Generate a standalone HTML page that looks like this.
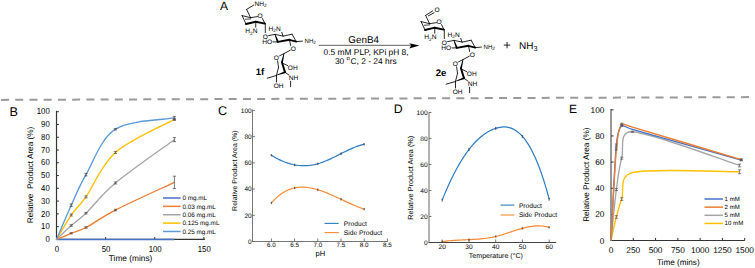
<!DOCTYPE html>
<html><head><meta charset="utf-8"><style>
html,body{margin:0;padding:0;background:#fff;width:755px;height:268px;overflow:hidden}
svg{display:block}
text{font-family:"Liberation Sans", sans-serif;text-rendering:geometricPrecision}
</style></head><body>
<svg width="755" height="268" viewBox="0 0 755 268">
<rect width="755" height="268" fill="#fff"/>
<line x1="1" y1="99.9" x2="755" y2="97.1" stroke="#9a9a9a" stroke-width="2" stroke-dasharray="8 6.23"/>
<text x="9.60" y="115.90" font-size="12.70" text-anchor="start" fill="#000" font-weight="normal" >B</text>
<line x1="56.50" y1="239.40" x2="58.90" y2="239.40" stroke="#333" stroke-width="1.00" />
<text x="49.70" y="242.10" font-size="8.60" text-anchor="end" fill="#000" font-weight="normal" textLength="4.3" lengthAdjust="spacingAndGlyphs">0</text>
<line x1="56.50" y1="226.63" x2="58.90" y2="226.63" stroke="#333" stroke-width="1.00" />
<text x="49.70" y="229.33" font-size="8.60" text-anchor="end" fill="#000" font-weight="normal" textLength="8.6" lengthAdjust="spacingAndGlyphs">10</text>
<line x1="56.50" y1="213.86" x2="58.90" y2="213.86" stroke="#333" stroke-width="1.00" />
<text x="49.70" y="216.56" font-size="8.60" text-anchor="end" fill="#000" font-weight="normal" textLength="8.6" lengthAdjust="spacingAndGlyphs">20</text>
<line x1="56.50" y1="201.09" x2="58.90" y2="201.09" stroke="#333" stroke-width="1.00" />
<text x="49.70" y="203.79" font-size="8.60" text-anchor="end" fill="#000" font-weight="normal" textLength="8.6" lengthAdjust="spacingAndGlyphs">30</text>
<line x1="56.50" y1="188.32" x2="58.90" y2="188.32" stroke="#333" stroke-width="1.00" />
<text x="49.70" y="191.02" font-size="8.60" text-anchor="end" fill="#000" font-weight="normal" textLength="8.6" lengthAdjust="spacingAndGlyphs">40</text>
<line x1="56.50" y1="175.55" x2="58.90" y2="175.55" stroke="#333" stroke-width="1.00" />
<text x="49.70" y="178.25" font-size="8.60" text-anchor="end" fill="#000" font-weight="normal" textLength="8.6" lengthAdjust="spacingAndGlyphs">50</text>
<line x1="56.50" y1="162.78" x2="58.90" y2="162.78" stroke="#333" stroke-width="1.00" />
<text x="49.70" y="165.48" font-size="8.60" text-anchor="end" fill="#000" font-weight="normal" textLength="8.6" lengthAdjust="spacingAndGlyphs">60</text>
<line x1="56.50" y1="150.01" x2="58.90" y2="150.01" stroke="#333" stroke-width="1.00" />
<text x="49.70" y="152.71" font-size="8.60" text-anchor="end" fill="#000" font-weight="normal" textLength="8.6" lengthAdjust="spacingAndGlyphs">70</text>
<line x1="56.50" y1="137.24" x2="58.90" y2="137.24" stroke="#333" stroke-width="1.00" />
<text x="49.70" y="139.94" font-size="8.60" text-anchor="end" fill="#000" font-weight="normal" textLength="8.6" lengthAdjust="spacingAndGlyphs">80</text>
<line x1="56.50" y1="124.47" x2="58.90" y2="124.47" stroke="#333" stroke-width="1.00" />
<text x="49.70" y="127.17" font-size="8.60" text-anchor="end" fill="#000" font-weight="normal" textLength="8.6" lengthAdjust="spacingAndGlyphs">90</text>
<line x1="56.50" y1="111.70" x2="58.90" y2="111.70" stroke="#333" stroke-width="1.00" />
<text x="49.70" y="114.40" font-size="8.60" text-anchor="end" fill="#000" font-weight="normal" textLength="12.9" lengthAdjust="spacingAndGlyphs">100</text>
<line x1="56.50" y1="239.40" x2="56.50" y2="237.00" stroke="#333" stroke-width="1.00" />
<text x="56.90" y="252.30" font-size="8.60" text-anchor="middle" fill="#000" font-weight="normal" textLength="4.3" lengthAdjust="spacingAndGlyphs">0</text>
<line x1="105.62" y1="239.40" x2="105.62" y2="237.00" stroke="#333" stroke-width="1.00" />
<text x="106.03" y="252.30" font-size="8.60" text-anchor="middle" fill="#000" font-weight="normal" textLength="8.7" lengthAdjust="spacingAndGlyphs">50</text>
<line x1="154.75" y1="239.40" x2="154.75" y2="237.00" stroke="#333" stroke-width="1.00" />
<text x="155.15" y="252.30" font-size="8.60" text-anchor="middle" fill="#000" font-weight="normal" textLength="13.0" lengthAdjust="spacingAndGlyphs">100</text>
<line x1="203.88" y1="239.40" x2="203.88" y2="237.00" stroke="#333" stroke-width="1.00" />
<text x="204.28" y="252.30" font-size="8.60" text-anchor="middle" fill="#000" font-weight="normal" textLength="13.0" lengthAdjust="spacingAndGlyphs">150</text>
<line x1="56.50" y1="110.80" x2="56.50" y2="239.90" stroke="#333" stroke-width="1.20" />
<line x1="55.90" y1="239.40" x2="204.90" y2="239.40" stroke="#333" stroke-width="1.20" />
<text x="130.60" y="261.20" font-size="8.30" text-anchor="middle" fill="#000" font-weight="normal" >Time (mins)</text>
<text x="32.70" y="175.00" font-size="8.20" text-anchor="middle" fill="#000" font-weight="normal" transform="rotate(-90 32.7 175.0)">Relative&#160;&#160;Product Area (%)</text>
<line x1="56.50" y1="239.40" x2="174.40" y2="239.40" stroke="#4472C4" stroke-width="1.50" />
<path d="M56.50,239.40 C58.96,238.38 66.33,235.25 71.24,233.27 C76.15,231.29 78.97,231.20 85.97,227.52 C93.34,223.65 100.71,217.56 115.45,210.03 C130.19,202.49 164.58,186.94 174.40,182.32" stroke="#ED7D31" stroke-width="1.35" fill="none" />
<path d="M56.50,239.40 C58.96,237.08 66.33,229.84 71.24,225.48 C76.15,221.12 79.07,219.87 85.97,213.22 C93.34,206.13 100.71,195.22 115.45,182.96 C130.19,170.70 164.58,146.88 174.40,139.67" stroke="#A5A5A5" stroke-width="1.35" fill="none" />
<path d="M56.50,239.40 C58.96,235.33 66.33,222.10 71.24,215.01 C76.15,207.92 79.23,206.42 85.97,196.88 C93.34,186.45 100.71,165.36 115.45,152.44 C130.19,139.52 164.58,124.87 174.40,119.36" stroke="#FFC000" stroke-width="1.35" fill="none" />
<path d="M56.50,239.40 C58.96,233.72 66.33,216.09 71.24,205.30 C76.15,194.51 78.61,187.34 85.97,174.66 C93.34,161.97 100.71,138.64 115.45,129.19 C130.19,119.75 164.58,119.83 174.40,117.96" stroke="#5B9BD5" stroke-width="1.35" fill="none" />
<line x1="71.24" y1="232.63" x2="71.24" y2="233.91" stroke="#444" stroke-width="0.70" />
<line x1="69.64" y1="232.63" x2="72.84" y2="232.63" stroke="#444" stroke-width="0.70" />
<line x1="69.64" y1="233.91" x2="72.84" y2="233.91" stroke="#444" stroke-width="0.70" />
<line x1="85.97" y1="226.76" x2="85.97" y2="228.29" stroke="#444" stroke-width="0.70" />
<line x1="84.38" y1="226.76" x2="87.57" y2="226.76" stroke="#444" stroke-width="0.70" />
<line x1="84.38" y1="228.29" x2="87.57" y2="228.29" stroke="#444" stroke-width="0.70" />
<line x1="115.45" y1="209.26" x2="115.45" y2="210.80" stroke="#444" stroke-width="0.70" />
<line x1="113.85" y1="209.26" x2="117.05" y2="209.26" stroke="#444" stroke-width="0.70" />
<line x1="113.85" y1="210.80" x2="117.05" y2="210.80" stroke="#444" stroke-width="0.70" />
<line x1="174.40" y1="176.19" x2="174.40" y2="188.45" stroke="#444" stroke-width="0.70" />
<line x1="172.80" y1="176.19" x2="176.00" y2="176.19" stroke="#444" stroke-width="0.70" />
<line x1="172.80" y1="188.45" x2="176.00" y2="188.45" stroke="#444" stroke-width="0.70" />
<line x1="71.24" y1="224.71" x2="71.24" y2="226.25" stroke="#444" stroke-width="0.70" />
<line x1="69.64" y1="224.71" x2="72.84" y2="224.71" stroke="#444" stroke-width="0.70" />
<line x1="69.64" y1="226.25" x2="72.84" y2="226.25" stroke="#444" stroke-width="0.70" />
<line x1="85.97" y1="212.46" x2="85.97" y2="213.99" stroke="#444" stroke-width="0.70" />
<line x1="84.38" y1="212.46" x2="87.57" y2="212.46" stroke="#444" stroke-width="0.70" />
<line x1="84.38" y1="213.99" x2="87.57" y2="213.99" stroke="#444" stroke-width="0.70" />
<line x1="115.45" y1="181.94" x2="115.45" y2="183.98" stroke="#444" stroke-width="0.70" />
<line x1="113.85" y1="181.94" x2="117.05" y2="181.94" stroke="#444" stroke-width="0.70" />
<line x1="113.85" y1="183.98" x2="117.05" y2="183.98" stroke="#444" stroke-width="0.70" />
<line x1="174.40" y1="137.62" x2="174.40" y2="141.71" stroke="#444" stroke-width="0.70" />
<line x1="172.80" y1="137.62" x2="176.00" y2="137.62" stroke="#444" stroke-width="0.70" />
<line x1="172.80" y1="141.71" x2="176.00" y2="141.71" stroke="#444" stroke-width="0.70" />
<line x1="71.24" y1="213.99" x2="71.24" y2="216.03" stroke="#444" stroke-width="0.70" />
<line x1="69.64" y1="213.99" x2="72.84" y2="213.99" stroke="#444" stroke-width="0.70" />
<line x1="69.64" y1="216.03" x2="72.84" y2="216.03" stroke="#444" stroke-width="0.70" />
<line x1="85.97" y1="195.85" x2="85.97" y2="197.90" stroke="#444" stroke-width="0.70" />
<line x1="84.38" y1="195.85" x2="87.57" y2="195.85" stroke="#444" stroke-width="0.70" />
<line x1="84.38" y1="197.90" x2="87.57" y2="197.90" stroke="#444" stroke-width="0.70" />
<line x1="115.45" y1="151.41" x2="115.45" y2="153.46" stroke="#444" stroke-width="0.70" />
<line x1="113.85" y1="151.41" x2="117.05" y2="151.41" stroke="#444" stroke-width="0.70" />
<line x1="113.85" y1="153.46" x2="117.05" y2="153.46" stroke="#444" stroke-width="0.70" />
<line x1="174.40" y1="118.34" x2="174.40" y2="120.38" stroke="#444" stroke-width="0.70" />
<line x1="172.80" y1="118.34" x2="176.00" y2="118.34" stroke="#444" stroke-width="0.70" />
<line x1="172.80" y1="120.38" x2="176.00" y2="120.38" stroke="#444" stroke-width="0.70" />
<line x1="71.24" y1="204.03" x2="71.24" y2="206.58" stroke="#444" stroke-width="0.70" />
<line x1="69.64" y1="204.03" x2="72.84" y2="204.03" stroke="#444" stroke-width="0.70" />
<line x1="69.64" y1="206.58" x2="72.84" y2="206.58" stroke="#444" stroke-width="0.70" />
<line x1="85.97" y1="173.38" x2="85.97" y2="175.93" stroke="#444" stroke-width="0.70" />
<line x1="84.38" y1="173.38" x2="87.57" y2="173.38" stroke="#444" stroke-width="0.70" />
<line x1="84.38" y1="175.93" x2="87.57" y2="175.93" stroke="#444" stroke-width="0.70" />
<line x1="115.45" y1="128.43" x2="115.45" y2="129.96" stroke="#444" stroke-width="0.70" />
<line x1="113.85" y1="128.43" x2="117.05" y2="128.43" stroke="#444" stroke-width="0.70" />
<line x1="113.85" y1="129.96" x2="117.05" y2="129.96" stroke="#444" stroke-width="0.70" />
<line x1="174.40" y1="116.42" x2="174.40" y2="119.49" stroke="#444" stroke-width="0.70" />
<line x1="172.80" y1="116.42" x2="176.00" y2="116.42" stroke="#444" stroke-width="0.70" />
<line x1="172.80" y1="119.49" x2="176.00" y2="119.49" stroke="#444" stroke-width="0.70" />
<line x1="163.00" y1="198.00" x2="180.60" y2="198.00" stroke="#4472C4" stroke-width="1.50" />
<text x="182.40" y="200.20" font-size="6.35" text-anchor="start" fill="#000" font-weight="normal" >0 mg.mL</text>
<line x1="163.00" y1="206.37" x2="180.60" y2="206.37" stroke="#ED7D31" stroke-width="1.50" />
<text x="182.40" y="208.57" font-size="6.35" text-anchor="start" fill="#000" font-weight="normal" >0.03 mg.mL</text>
<line x1="163.00" y1="214.74" x2="180.60" y2="214.74" stroke="#A5A5A5" stroke-width="1.50" />
<text x="182.40" y="216.94" font-size="6.35" text-anchor="start" fill="#000" font-weight="normal" >0.06 mg.mL</text>
<line x1="163.00" y1="223.11" x2="180.60" y2="223.11" stroke="#FFC000" stroke-width="1.50" />
<text x="182.40" y="225.31" font-size="6.35" text-anchor="start" fill="#000" font-weight="normal" >0.125 mg.mL</text>
<line x1="163.00" y1="231.48" x2="180.60" y2="231.48" stroke="#5B9BD5" stroke-width="1.50" />
<text x="182.40" y="233.68" font-size="6.35" text-anchor="start" fill="#000" font-weight="normal" >0.25 mg.mL</text>
<text x="218.00" y="115.40" font-size="12.70" text-anchor="start" fill="#000" font-weight="normal" >C</text>
<line x1="252.50" y1="241.50" x2="254.90" y2="241.50" stroke="#666" stroke-width="0.90" />
<text x="251.70" y="243.80" font-size="6.50" text-anchor="end" fill="#000" font-weight="normal" >0</text>
<line x1="252.50" y1="215.28" x2="254.90" y2="215.28" stroke="#666" stroke-width="0.90" />
<text x="251.70" y="217.58" font-size="6.50" text-anchor="end" fill="#000" font-weight="normal" >20</text>
<line x1="252.50" y1="189.06" x2="254.90" y2="189.06" stroke="#666" stroke-width="0.90" />
<text x="251.70" y="191.36" font-size="6.50" text-anchor="end" fill="#000" font-weight="normal" >40</text>
<line x1="252.50" y1="162.84" x2="254.90" y2="162.84" stroke="#666" stroke-width="0.90" />
<text x="251.70" y="165.14" font-size="6.50" text-anchor="end" fill="#000" font-weight="normal" >60</text>
<line x1="252.50" y1="136.62" x2="254.90" y2="136.62" stroke="#666" stroke-width="0.90" />
<text x="251.70" y="138.92" font-size="6.50" text-anchor="end" fill="#000" font-weight="normal" >80</text>
<line x1="252.50" y1="110.40" x2="254.90" y2="110.40" stroke="#666" stroke-width="0.90" />
<text x="251.70" y="112.70" font-size="6.50" text-anchor="end" fill="#000" font-weight="normal" >100</text>
<line x1="271.40" y1="241.50" x2="271.40" y2="238.50" stroke="#666" stroke-width="0.90" />
<text x="271.40" y="247.30" font-size="6.30" text-anchor="middle" fill="#000" font-weight="normal" >6.0</text>
<line x1="294.60" y1="241.50" x2="294.60" y2="238.50" stroke="#666" stroke-width="0.90" />
<text x="294.60" y="247.30" font-size="6.30" text-anchor="middle" fill="#000" font-weight="normal" >6.5</text>
<line x1="317.80" y1="241.50" x2="317.80" y2="238.50" stroke="#666" stroke-width="0.90" />
<text x="317.80" y="247.30" font-size="6.30" text-anchor="middle" fill="#000" font-weight="normal" >7.0</text>
<line x1="341.00" y1="241.50" x2="341.00" y2="238.50" stroke="#666" stroke-width="0.90" />
<text x="341.00" y="247.30" font-size="6.30" text-anchor="middle" fill="#000" font-weight="normal" >7.5</text>
<line x1="364.20" y1="241.50" x2="364.20" y2="238.50" stroke="#666" stroke-width="0.90" />
<text x="364.20" y="247.30" font-size="6.30" text-anchor="middle" fill="#000" font-weight="normal" >8.0</text>
<line x1="387.40" y1="241.50" x2="387.40" y2="238.50" stroke="#666" stroke-width="0.90" />
<text x="387.40" y="247.30" font-size="6.30" text-anchor="middle" fill="#000" font-weight="normal" >8.5</text>
<line x1="252.50" y1="109.60" x2="252.50" y2="241.90" stroke="#666" stroke-width="0.90" />
<line x1="252.10" y1="241.50" x2="387.80" y2="241.50" stroke="#666" stroke-width="0.90" />
<text x="320.40" y="255.60" font-size="7.50" text-anchor="middle" fill="#000" font-weight="normal" >pH</text>
<text x="237.20" y="170.60" font-size="7.00" text-anchor="middle" fill="#000" font-weight="normal" transform="rotate(-90 237.2 170.6)">Relative Product Area (%)</text>
<path d="M271.40,155.24 L273.06,156.26 L274.71,157.24 L276.37,158.16 L278.03,159.03 L279.69,159.84 L281.34,160.61 L283.00,161.32 L284.66,161.98 L286.31,162.58 L287.97,163.14 L289.63,163.63 L291.29,164.08 L292.94,164.47 L294.60,164.81 L296.26,165.09 L297.91,165.32 L299.57,165.49 L301.23,165.61 L302.89,165.67 L304.54,165.68 L306.20,165.64 L307.86,165.54 L309.51,165.38 L311.17,165.17 L312.83,164.90 L314.49,164.58 L316.14,164.19 L317.80,163.76 L319.46,163.27 L321.11,162.72 L322.77,162.13 L324.43,161.49 L326.09,160.81 L327.74,160.10 L329.40,159.36 L331.06,158.59 L332.71,157.80 L334.37,156.99 L336.03,156.17 L337.69,155.34 L339.34,154.50 L341.00,153.66 L342.66,152.83 L344.31,152.00 L345.97,151.19 L347.63,150.39 L349.29,149.61 L350.94,148.85 L352.60,148.13 L354.26,147.44 L355.91,146.78 L357.57,146.17 L359.23,145.60 L360.89,145.09 L362.54,144.63 L364.20,144.22" stroke="#2D7BC2" stroke-width="1.20" fill="none" />
<path d="M271.40,202.96 L273.06,201.11 L274.71,199.40 L276.37,197.82 L278.03,196.36 L279.69,195.03 L281.34,193.81 L283.00,192.70 L284.66,191.71 L286.31,190.82 L287.97,190.04 L289.63,189.36 L291.29,188.77 L292.94,188.28 L294.60,187.88 L296.26,187.56 L297.91,187.33 L299.57,187.18 L301.23,187.10 L302.89,187.09 L304.54,187.16 L306.20,187.28 L307.86,187.47 L309.51,187.72 L311.17,188.03 L312.83,188.38 L314.49,188.78 L316.14,189.23 L317.80,189.72 L319.46,190.24 L321.11,190.80 L322.77,191.39 L324.43,192.01 L326.09,192.66 L327.74,193.33 L329.40,194.03 L331.06,194.74 L332.71,195.47 L334.37,196.22 L336.03,196.97 L337.69,197.74 L339.34,198.51 L341.00,199.29 L342.66,200.06 L344.31,200.84 L345.97,201.61 L347.63,202.38 L349.29,203.13 L350.94,203.88 L352.60,204.61 L354.26,205.32 L355.91,206.02 L357.57,206.69 L359.23,207.34 L360.89,207.96 L362.54,208.56 L364.20,209.12" stroke="#FA8A32" stroke-width="1.20" fill="none" />
<line x1="271.40" y1="154.54" x2="271.40" y2="155.94" stroke="#333" stroke-width="0.60" />
<line x1="270.70" y1="154.54" x2="272.10" y2="154.54" stroke="#333" stroke-width="0.60" />
<line x1="270.70" y1="155.94" x2="272.10" y2="155.94" stroke="#333" stroke-width="0.60" />
<line x1="294.60" y1="164.11" x2="294.60" y2="165.51" stroke="#333" stroke-width="0.60" />
<line x1="293.90" y1="164.11" x2="295.30" y2="164.11" stroke="#333" stroke-width="0.60" />
<line x1="293.90" y1="165.51" x2="295.30" y2="165.51" stroke="#333" stroke-width="0.60" />
<line x1="317.80" y1="163.06" x2="317.80" y2="164.46" stroke="#333" stroke-width="0.60" />
<line x1="317.10" y1="163.06" x2="318.50" y2="163.06" stroke="#333" stroke-width="0.60" />
<line x1="317.10" y1="164.46" x2="318.50" y2="164.46" stroke="#333" stroke-width="0.60" />
<line x1="341.00" y1="152.96" x2="341.00" y2="154.36" stroke="#333" stroke-width="0.60" />
<line x1="340.30" y1="152.96" x2="341.70" y2="152.96" stroke="#333" stroke-width="0.60" />
<line x1="340.30" y1="154.36" x2="341.70" y2="154.36" stroke="#333" stroke-width="0.60" />
<line x1="364.20" y1="143.52" x2="364.20" y2="144.92" stroke="#333" stroke-width="0.60" />
<line x1="363.50" y1="143.52" x2="364.90" y2="143.52" stroke="#333" stroke-width="0.60" />
<line x1="363.50" y1="144.92" x2="364.90" y2="144.92" stroke="#333" stroke-width="0.60" />
<line x1="271.40" y1="202.26" x2="271.40" y2="203.66" stroke="#333" stroke-width="0.60" />
<line x1="270.70" y1="202.26" x2="272.10" y2="202.26" stroke="#333" stroke-width="0.60" />
<line x1="270.70" y1="203.66" x2="272.10" y2="203.66" stroke="#333" stroke-width="0.60" />
<line x1="294.60" y1="187.18" x2="294.60" y2="188.58" stroke="#333" stroke-width="0.60" />
<line x1="293.90" y1="187.18" x2="295.30" y2="187.18" stroke="#333" stroke-width="0.60" />
<line x1="293.90" y1="188.58" x2="295.30" y2="188.58" stroke="#333" stroke-width="0.60" />
<line x1="317.80" y1="189.02" x2="317.80" y2="190.42" stroke="#333" stroke-width="0.60" />
<line x1="317.10" y1="189.02" x2="318.50" y2="189.02" stroke="#333" stroke-width="0.60" />
<line x1="317.10" y1="190.42" x2="318.50" y2="190.42" stroke="#333" stroke-width="0.60" />
<line x1="341.00" y1="198.59" x2="341.00" y2="199.99" stroke="#333" stroke-width="0.60" />
<line x1="340.30" y1="198.59" x2="341.70" y2="198.59" stroke="#333" stroke-width="0.60" />
<line x1="340.30" y1="199.99" x2="341.70" y2="199.99" stroke="#333" stroke-width="0.60" />
<line x1="364.20" y1="208.42" x2="364.20" y2="209.82" stroke="#333" stroke-width="0.60" />
<line x1="363.50" y1="208.42" x2="364.90" y2="208.42" stroke="#333" stroke-width="0.60" />
<line x1="363.50" y1="209.82" x2="364.90" y2="209.82" stroke="#333" stroke-width="0.60" />
<line x1="324.50" y1="223.40" x2="338.70" y2="223.40" stroke="#2D7BC2" stroke-width="1.10" />
<line x1="324.50" y1="232.60" x2="338.70" y2="232.60" stroke="#FA8A32" stroke-width="1.10" />
<text x="343.80" y="225.90" font-size="6.70" text-anchor="start" fill="#000" font-weight="normal" >Product</text>
<text x="343.80" y="235.10" font-size="6.70" text-anchor="start" fill="#000" font-weight="normal" >Side Product</text>
<text x="393.80" y="112.80" font-size="12.30" text-anchor="start" fill="#000" font-weight="normal" >D</text>
<line x1="429.00" y1="242.50" x2="431.40" y2="242.50" stroke="#666" stroke-width="0.90" />
<text x="427.60" y="244.80" font-size="6.60" text-anchor="end" fill="#000" font-weight="normal" >0</text>
<line x1="429.00" y1="216.50" x2="431.40" y2="216.50" stroke="#666" stroke-width="0.90" />
<text x="427.60" y="218.80" font-size="6.60" text-anchor="end" fill="#000" font-weight="normal" >20</text>
<line x1="429.00" y1="190.50" x2="431.40" y2="190.50" stroke="#666" stroke-width="0.90" />
<text x="427.60" y="192.80" font-size="6.60" text-anchor="end" fill="#000" font-weight="normal" >40</text>
<line x1="429.00" y1="164.50" x2="431.40" y2="164.50" stroke="#666" stroke-width="0.90" />
<text x="427.60" y="166.80" font-size="6.60" text-anchor="end" fill="#000" font-weight="normal" >60</text>
<line x1="429.00" y1="138.50" x2="431.40" y2="138.50" stroke="#666" stroke-width="0.90" />
<text x="427.60" y="140.80" font-size="6.60" text-anchor="end" fill="#000" font-weight="normal" >80</text>
<line x1="429.00" y1="112.50" x2="431.40" y2="112.50" stroke="#666" stroke-width="0.90" />
<text x="427.60" y="114.80" font-size="6.60" text-anchor="end" fill="#000" font-weight="normal" >100</text>
<line x1="442.20" y1="242.50" x2="442.20" y2="239.50" stroke="#666" stroke-width="0.90" />
<text x="442.20" y="248.80" font-size="6.60" text-anchor="middle" fill="#000" font-weight="normal" >20</text>
<line x1="468.95" y1="242.50" x2="468.95" y2="239.50" stroke="#666" stroke-width="0.90" />
<text x="468.95" y="248.80" font-size="6.60" text-anchor="middle" fill="#000" font-weight="normal" >30</text>
<line x1="495.70" y1="242.50" x2="495.70" y2="239.50" stroke="#666" stroke-width="0.90" />
<text x="495.70" y="248.80" font-size="6.60" text-anchor="middle" fill="#000" font-weight="normal" >40</text>
<line x1="522.45" y1="242.50" x2="522.45" y2="239.50" stroke="#666" stroke-width="0.90" />
<text x="522.45" y="248.80" font-size="6.60" text-anchor="middle" fill="#000" font-weight="normal" >50</text>
<line x1="549.20" y1="242.50" x2="549.20" y2="239.50" stroke="#666" stroke-width="0.90" />
<text x="549.20" y="248.80" font-size="6.60" text-anchor="middle" fill="#000" font-weight="normal" >60</text>
<line x1="429.00" y1="112.00" x2="429.00" y2="242.90" stroke="#666" stroke-width="1.00" />
<line x1="428.60" y1="242.50" x2="556.20" y2="242.50" stroke="#444" stroke-width="1.00" />
<text x="495.90" y="258.30" font-size="7.05" text-anchor="middle" fill="#000" font-weight="normal" >Temperature (&#176;C)</text>
<text x="412.70" y="177.70" font-size="7.30" text-anchor="middle" fill="#000" font-weight="normal" transform="rotate(-90 412.7 177.7)">Relative Product Area (%)</text>
<path d="M442.20,200.12 L444.11,195.39 L446.02,190.85 L447.93,186.48 L449.84,182.29 L451.75,178.28 L453.66,174.43 L455.57,170.75 L457.49,167.24 L459.40,163.90 L461.31,160.71 L463.22,157.69 L465.13,154.82 L467.04,152.11 L468.95,149.55 L470.86,147.14 L472.77,144.88 L474.68,142.76 L476.59,140.78 L478.50,138.95 L480.41,137.25 L482.32,135.69 L484.24,134.26 L486.15,132.97 L488.06,131.80 L489.97,130.75 L491.88,129.84 L493.79,129.04 L495.70,128.36 L497.61,127.80 L499.52,127.37 L501.43,127.08 L503.34,126.94 L505.25,126.96 L507.16,127.16 L509.08,127.54 L510.99,128.12 L512.90,128.91 L514.81,129.93 L516.72,131.17 L518.63,132.66 L520.54,134.41 L522.45,136.42 L524.36,138.71 L526.27,141.30 L528.18,144.18 L530.09,147.38 L532.00,150.91 L533.91,154.77 L535.83,158.98 L537.74,163.55 L539.65,168.50 L541.56,173.83 L543.47,179.55 L545.38,185.68 L547.29,192.23 L549.20,199.21" stroke="#2D7BC2" stroke-width="1.20" fill="none" />
<path d="M442.20,241.72 L444.11,241.43 L446.02,241.18 L447.93,240.95 L449.84,240.76 L451.75,240.59 L453.66,240.43 L455.57,240.30 L457.49,240.19 L459.40,240.08 L461.31,239.99 L463.22,239.90 L465.13,239.81 L467.04,239.73 L468.95,239.64 L470.86,239.55 L472.77,239.45 L474.68,239.34 L476.59,239.21 L478.50,239.07 L480.41,238.90 L482.32,238.72 L484.24,238.51 L486.15,238.26 L488.06,237.99 L489.97,237.68 L491.88,237.34 L493.79,236.95 L495.70,236.52 L497.61,236.04 L499.52,235.53 L501.43,234.98 L503.34,234.40 L505.25,233.79 L507.16,233.17 L509.08,232.54 L510.99,231.91 L512.90,231.27 L514.81,230.65 L516.72,230.03 L518.63,229.44 L520.54,228.87 L522.45,228.33 L524.36,227.83 L526.27,227.37 L528.18,226.96 L530.09,226.61 L532.00,226.32 L533.91,226.09 L535.83,225.94 L537.74,225.86 L539.65,225.88 L541.56,225.98 L543.47,226.18 L545.38,226.48 L547.29,226.89 L549.20,227.42" stroke="#FA8A32" stroke-width="1.20" fill="none" />
<line x1="442.20" y1="199.22" x2="442.20" y2="201.02" stroke="#333" stroke-width="0.60" />
<line x1="441.50" y1="199.22" x2="442.90" y2="199.22" stroke="#333" stroke-width="0.60" />
<line x1="441.50" y1="201.02" x2="442.90" y2="201.02" stroke="#333" stroke-width="0.60" />
<line x1="468.95" y1="148.65" x2="468.95" y2="150.45" stroke="#333" stroke-width="0.60" />
<line x1="468.25" y1="148.65" x2="469.65" y2="148.65" stroke="#333" stroke-width="0.60" />
<line x1="468.25" y1="150.45" x2="469.65" y2="150.45" stroke="#333" stroke-width="0.60" />
<line x1="495.70" y1="127.46" x2="495.70" y2="129.26" stroke="#333" stroke-width="0.60" />
<line x1="495.00" y1="127.46" x2="496.40" y2="127.46" stroke="#333" stroke-width="0.60" />
<line x1="495.00" y1="129.26" x2="496.40" y2="129.26" stroke="#333" stroke-width="0.60" />
<line x1="522.45" y1="135.52" x2="522.45" y2="137.32" stroke="#333" stroke-width="0.60" />
<line x1="521.75" y1="135.52" x2="523.15" y2="135.52" stroke="#333" stroke-width="0.60" />
<line x1="521.75" y1="137.32" x2="523.15" y2="137.32" stroke="#333" stroke-width="0.60" />
<line x1="549.20" y1="198.31" x2="549.20" y2="200.11" stroke="#333" stroke-width="0.60" />
<line x1="548.50" y1="198.31" x2="549.90" y2="198.31" stroke="#333" stroke-width="0.60" />
<line x1="548.50" y1="200.11" x2="549.90" y2="200.11" stroke="#333" stroke-width="0.60" />
<line x1="442.20" y1="241.12" x2="442.20" y2="242.32" stroke="#333" stroke-width="0.60" />
<line x1="441.50" y1="241.12" x2="442.90" y2="241.12" stroke="#333" stroke-width="0.60" />
<line x1="441.50" y1="242.32" x2="442.90" y2="242.32" stroke="#333" stroke-width="0.60" />
<line x1="468.95" y1="239.04" x2="468.95" y2="240.24" stroke="#333" stroke-width="0.60" />
<line x1="468.25" y1="239.04" x2="469.65" y2="239.04" stroke="#333" stroke-width="0.60" />
<line x1="468.25" y1="240.24" x2="469.65" y2="240.24" stroke="#333" stroke-width="0.60" />
<line x1="495.70" y1="235.92" x2="495.70" y2="237.12" stroke="#333" stroke-width="0.60" />
<line x1="495.00" y1="235.92" x2="496.40" y2="235.92" stroke="#333" stroke-width="0.60" />
<line x1="495.00" y1="237.12" x2="496.40" y2="237.12" stroke="#333" stroke-width="0.60" />
<line x1="522.45" y1="227.73" x2="522.45" y2="228.93" stroke="#333" stroke-width="0.60" />
<line x1="521.75" y1="227.73" x2="523.15" y2="227.73" stroke="#333" stroke-width="0.60" />
<line x1="521.75" y1="228.93" x2="523.15" y2="228.93" stroke="#333" stroke-width="0.60" />
<line x1="549.20" y1="226.82" x2="549.20" y2="228.02" stroke="#333" stroke-width="0.60" />
<line x1="548.50" y1="226.82" x2="549.90" y2="226.82" stroke="#333" stroke-width="0.60" />
<line x1="548.50" y1="228.02" x2="549.90" y2="228.02" stroke="#333" stroke-width="0.60" />
<line x1="500.50" y1="205.10" x2="514.40" y2="205.10" stroke="#2D7BC2" stroke-width="1.10" />
<line x1="500.50" y1="215.00" x2="514.40" y2="215.00" stroke="#FA8A32" stroke-width="1.10" />
<text x="518.90" y="207.80" font-size="6.70" text-anchor="start" fill="#000" font-weight="normal" >Product</text>
<text x="518.90" y="217.10" font-size="6.70" text-anchor="start" fill="#000" font-weight="normal" >Side Product</text>
<text x="569.10" y="112.80" font-size="12.00" text-anchor="start" fill="#000" font-weight="normal" >E</text>
<line x1="611.00" y1="240.50" x2="613.60" y2="240.50" stroke="#333" stroke-width="1.00" />
<text x="604.40" y="243.50" font-size="8.30" text-anchor="end" fill="#000" font-weight="normal" >0</text>
<line x1="611.00" y1="214.36" x2="613.60" y2="214.36" stroke="#333" stroke-width="1.00" />
<text x="604.40" y="217.36" font-size="8.30" text-anchor="end" fill="#000" font-weight="normal" >20</text>
<line x1="611.00" y1="188.22" x2="613.60" y2="188.22" stroke="#333" stroke-width="1.00" />
<text x="604.40" y="191.22" font-size="8.30" text-anchor="end" fill="#000" font-weight="normal" >40</text>
<line x1="611.00" y1="162.08" x2="613.60" y2="162.08" stroke="#333" stroke-width="1.00" />
<text x="604.40" y="165.08" font-size="8.30" text-anchor="end" fill="#000" font-weight="normal" >60</text>
<line x1="611.00" y1="135.94" x2="613.60" y2="135.94" stroke="#333" stroke-width="1.00" />
<text x="604.40" y="138.94" font-size="8.30" text-anchor="end" fill="#000" font-weight="normal" >80</text>
<line x1="611.00" y1="109.80" x2="613.60" y2="109.80" stroke="#333" stroke-width="1.00" />
<text x="604.40" y="112.80" font-size="8.30" text-anchor="end" fill="#000" font-weight="normal" >100</text>
<line x1="611.00" y1="240.50" x2="611.00" y2="237.90" stroke="#333" stroke-width="1.00" />
<text x="611.00" y="253.10" font-size="8.30" text-anchor="middle" fill="#000" font-weight="normal" >0</text>
<line x1="633.28" y1="240.50" x2="633.28" y2="237.90" stroke="#333" stroke-width="1.00" />
<text x="633.28" y="253.10" font-size="8.30" text-anchor="middle" fill="#000" font-weight="normal" >250</text>
<line x1="655.56" y1="240.50" x2="655.56" y2="237.90" stroke="#333" stroke-width="1.00" />
<text x="655.56" y="253.10" font-size="8.30" text-anchor="middle" fill="#000" font-weight="normal" >500</text>
<line x1="677.84" y1="240.50" x2="677.84" y2="237.90" stroke="#333" stroke-width="1.00" />
<text x="677.84" y="253.10" font-size="8.30" text-anchor="middle" fill="#000" font-weight="normal" >750</text>
<line x1="700.12" y1="240.50" x2="700.12" y2="237.90" stroke="#333" stroke-width="1.00" />
<text x="700.12" y="253.10" font-size="8.30" text-anchor="middle" fill="#000" font-weight="normal" >1000</text>
<line x1="722.40" y1="240.50" x2="722.40" y2="237.90" stroke="#333" stroke-width="1.00" />
<text x="722.40" y="253.10" font-size="8.30" text-anchor="middle" fill="#000" font-weight="normal" >1250</text>
<line x1="744.68" y1="240.50" x2="744.68" y2="237.90" stroke="#333" stroke-width="1.00" />
<text x="744.68" y="253.10" font-size="8.30" text-anchor="middle" fill="#000" font-weight="normal" >1500</text>
<line x1="611.00" y1="109.20" x2="611.00" y2="241.00" stroke="#333" stroke-width="1.00" />
<line x1="610.50" y1="240.50" x2="744.80" y2="240.50" stroke="#333" stroke-width="1.00" />
<text x="678.30" y="265.30" font-size="8.17" text-anchor="middle" fill="#000" font-weight="normal" >Time (mins)</text>
<text x="588.90" y="174.70" font-size="8.20" text-anchor="middle" fill="#000" font-weight="normal" transform="rotate(-90 588.9 174.7)">Relative Product Area (%)</text>
<path d="M611.00,240.50 C611.89,236.58 614.56,223.88 616.35,216.97 C618.13,210.07 619.02,206.47 621.69,199.07 C624.37,191.66 618.45,175.76 632.39,172.54 C652.04,167.98 721.73,171.88 739.60,171.75" stroke="#FFC000" stroke-width="1.35" fill="none" />
<path d="M611.00,240.50 C611.89,232.00 614.56,203.25 616.35,189.53 C618.13,175.80 619.02,167.79 621.69,158.16 C624.37,148.53 618.17,130.88 632.39,131.76 C652.04,132.98 721.73,159.86 739.60,165.48" stroke="#A5A5A5" stroke-width="1.35" fill="none" />
<path d="M611.00,240.50 C611.89,224.60 614.56,164.26 616.35,145.09 C617.29,134.97 619.02,128.10 621.69,125.48 C624.37,125.48 626.92,127.82 632.39,129.41 C652.32,135.18 723.15,155.00 741.30,160.12" stroke="#4472C4" stroke-width="1.35" fill="none" />
<path d="M611.00,240.50 C611.89,225.25 614.56,168.44 616.35,149.01 C617.52,136.23 619.02,127.55 621.69,123.92 C624.37,123.92 627.03,125.58 632.39,127.18 C652.32,133.13 723.15,154.19 741.30,159.60" stroke="#ED7D31" stroke-width="1.35" fill="none" />
<line x1="616.35" y1="215.67" x2="616.35" y2="218.28" stroke="#555" stroke-width="0.70" />
<line x1="614.75" y1="215.67" x2="617.95" y2="215.67" stroke="#555" stroke-width="0.70" />
<line x1="614.75" y1="218.28" x2="617.95" y2="218.28" stroke="#555" stroke-width="0.70" />
<line x1="621.69" y1="197.76" x2="621.69" y2="200.38" stroke="#555" stroke-width="0.70" />
<line x1="620.09" y1="197.76" x2="623.29" y2="197.76" stroke="#555" stroke-width="0.70" />
<line x1="620.09" y1="200.38" x2="623.29" y2="200.38" stroke="#555" stroke-width="0.70" />
<line x1="739.60" y1="169.79" x2="739.60" y2="173.71" stroke="#555" stroke-width="0.70" />
<line x1="738.00" y1="169.79" x2="741.20" y2="169.79" stroke="#555" stroke-width="0.70" />
<line x1="738.00" y1="173.71" x2="741.20" y2="173.71" stroke="#555" stroke-width="0.70" />
<line x1="616.35" y1="188.48" x2="616.35" y2="190.57" stroke="#555" stroke-width="0.70" />
<line x1="614.75" y1="188.48" x2="617.95" y2="188.48" stroke="#555" stroke-width="0.70" />
<line x1="614.75" y1="190.57" x2="617.95" y2="190.57" stroke="#555" stroke-width="0.70" />
<line x1="621.69" y1="157.11" x2="621.69" y2="159.20" stroke="#555" stroke-width="0.70" />
<line x1="620.09" y1="157.11" x2="623.29" y2="157.11" stroke="#555" stroke-width="0.70" />
<line x1="620.09" y1="159.20" x2="623.29" y2="159.20" stroke="#555" stroke-width="0.70" />
<line x1="632.39" y1="131.10" x2="632.39" y2="132.41" stroke="#555" stroke-width="0.70" />
<line x1="630.79" y1="131.10" x2="633.99" y2="131.10" stroke="#555" stroke-width="0.70" />
<line x1="630.79" y1="132.41" x2="633.99" y2="132.41" stroke="#555" stroke-width="0.70" />
<line x1="739.60" y1="164.11" x2="739.60" y2="166.85" stroke="#555" stroke-width="0.70" />
<line x1="738.00" y1="164.11" x2="741.20" y2="164.11" stroke="#555" stroke-width="0.70" />
<line x1="738.00" y1="166.85" x2="741.20" y2="166.85" stroke="#555" stroke-width="0.70" />
<line x1="616.35" y1="144.04" x2="616.35" y2="146.13" stroke="#555" stroke-width="0.70" />
<line x1="614.75" y1="144.04" x2="617.95" y2="144.04" stroke="#555" stroke-width="0.70" />
<line x1="614.75" y1="146.13" x2="617.95" y2="146.13" stroke="#555" stroke-width="0.70" />
<line x1="621.69" y1="124.70" x2="621.69" y2="126.27" stroke="#555" stroke-width="0.70" />
<line x1="620.09" y1="124.70" x2="623.29" y2="124.70" stroke="#555" stroke-width="0.70" />
<line x1="620.09" y1="126.27" x2="623.29" y2="126.27" stroke="#555" stroke-width="0.70" />
<line x1="741.30" y1="159.34" x2="741.30" y2="160.90" stroke="#555" stroke-width="0.70" />
<line x1="739.70" y1="159.34" x2="742.90" y2="159.34" stroke="#555" stroke-width="0.70" />
<line x1="739.70" y1="160.90" x2="742.90" y2="160.90" stroke="#555" stroke-width="0.70" />
<line x1="616.35" y1="147.96" x2="616.35" y2="150.06" stroke="#555" stroke-width="0.70" />
<line x1="614.75" y1="147.96" x2="617.95" y2="147.96" stroke="#555" stroke-width="0.70" />
<line x1="614.75" y1="150.06" x2="617.95" y2="150.06" stroke="#555" stroke-width="0.70" />
<line x1="621.69" y1="123.13" x2="621.69" y2="124.70" stroke="#555" stroke-width="0.70" />
<line x1="620.09" y1="123.13" x2="623.29" y2="123.13" stroke="#555" stroke-width="0.70" />
<line x1="620.09" y1="124.70" x2="623.29" y2="124.70" stroke="#555" stroke-width="0.70" />
<line x1="741.30" y1="158.81" x2="741.30" y2="160.38" stroke="#555" stroke-width="0.70" />
<line x1="739.70" y1="158.81" x2="742.90" y2="158.81" stroke="#555" stroke-width="0.70" />
<line x1="739.70" y1="160.38" x2="742.90" y2="160.38" stroke="#555" stroke-width="0.70" />
<line x1="704.50" y1="199.00" x2="723.00" y2="199.00" stroke="#4472C4" stroke-width="1.50" />
<text x="724.60" y="201.00" font-size="6.10" text-anchor="start" fill="#000" font-weight="normal" >1 mM</text>
<line x1="704.50" y1="207.15" x2="723.00" y2="207.15" stroke="#ED7D31" stroke-width="1.50" />
<text x="724.60" y="209.15" font-size="6.10" text-anchor="start" fill="#000" font-weight="normal" >2 mM</text>
<line x1="704.50" y1="215.30" x2="723.00" y2="215.30" stroke="#A5A5A5" stroke-width="1.50" />
<text x="724.60" y="217.30" font-size="6.10" text-anchor="start" fill="#000" font-weight="normal" >5 mM</text>
<line x1="704.50" y1="223.45" x2="723.00" y2="223.45" stroke="#FFC000" stroke-width="1.50" />
<text x="724.60" y="225.45" font-size="6.10" text-anchor="start" fill="#000" font-weight="normal" >10 mM</text>
<g>
<text x="220.00" y="9.90" font-size="12.00" text-anchor="start" font-weight="normal">A</text>
<line x1="242.10" y1="15.60" x2="250.60" y2="17.70" stroke="#000" stroke-width="0.85" stroke-linecap="round"/>
<line x1="245.40" y1="19.20" x2="250.80" y2="18.90" stroke="#000" stroke-width="0.70" stroke-linecap="round"/>
<line x1="250.60" y1="17.70" x2="257.50" y2="16.60" stroke="#000" stroke-width="0.85" stroke-linecap="round"/>
<line x1="242.10" y1="15.60" x2="246.00" y2="24.00" stroke="#000" stroke-width="0.85" stroke-linecap="round"/>
<line x1="246.00" y1="24.00" x2="255.80" y2="21.70" stroke="#000" stroke-width="1.90" stroke-linecap="round"/>
<line x1="255.80" y1="21.70" x2="264.90" y2="23.60" stroke="#000" stroke-width="1.90" stroke-linecap="round"/>
<line x1="262.50" y1="18.60" x2="264.90" y2="23.60" stroke="#000" stroke-width="0.85" stroke-linecap="round"/>
<line x1="255.80" y1="22.50" x2="255.70" y2="27.20" stroke="#000" stroke-width="0.85" stroke-linecap="round"/>
<line x1="265.30" y1="24.00" x2="265.30" y2="32.60" stroke="#000" stroke-width="0.85" stroke-linecap="round"/>
<text x="260.10" y="18.40" font-size="6.60" text-anchor="middle" font-weight="normal">O</text>
<text x="245.20" y="33.10" font-size="6.60">H<tspan font-size="4.8" dy="1.5">2</tspan><tspan dy="-1.5">N</tspan></text>
<line x1="250.60" y1="17.70" x2="246.60" y2="9.40" stroke="#000" stroke-width="0.85" stroke-linecap="round"/>
<line x1="246.60" y1="9.40" x2="253.60" y2="5.20" stroke="#000" stroke-width="0.85" stroke-linecap="round"/>
<text x="254.50" y="5.80" font-size="6.60">NH<tspan font-size="4.8" dy="1.5">2</tspan></text>
<text x="265.30" y="39.00" font-size="6.60" text-anchor="middle" font-weight="normal">O</text>
<line x1="268.60" y1="35.60" x2="275.00" y2="34.40" stroke="#000" stroke-width="0.85" stroke-linecap="round"/>
<line x1="275.00" y1="34.40" x2="283.20" y2="36.10" stroke="#000" stroke-width="0.85" stroke-linecap="round"/>
<line x1="283.20" y1="36.10" x2="292.10" y2="34.20" stroke="#000" stroke-width="0.85" stroke-linecap="round"/>
<line x1="292.10" y1="34.20" x2="296.30" y2="41.60" stroke="#000" stroke-width="0.85" stroke-linecap="round"/>
<line x1="296.30" y1="41.60" x2="289.40" y2="39.80" stroke="#000" stroke-width="1.90" stroke-linecap="round"/>
<line x1="289.40" y1="39.80" x2="277.90" y2="41.90" stroke="#000" stroke-width="1.90" stroke-linecap="round"/>
<polygon points="274.60,34.40 275.40,34.40 279.00,41.90 277.00,42.70" fill="#000"/>
<line x1="282.90" y1="35.80" x2="281.80" y2="32.40" stroke="#000" stroke-width="0.85" stroke-linecap="round"/>
<text x="268.60" y="30.60" font-size="6.60">H<tspan font-size="4.8" dy="1.5">2</tspan><tspan dy="-1.5">N</tspan></text>
<line x1="273.00" y1="41.90" x2="277.90" y2="41.90" stroke="#000" stroke-width="0.85" stroke-linecap="round"/>
<text x="267.30" y="44.30" font-size="6.60" text-anchor="middle" font-weight="normal">HO</text>
<line x1="296.30" y1="41.60" x2="302.40" y2="41.10" stroke="#000" stroke-width="0.85" stroke-linecap="round"/>
<text x="304.50" y="42.50" font-size="6.10">NH<tspan font-size="4.8" dy="1.5">2</tspan></text>
<line x1="289.60" y1="40.20" x2="290.60" y2="45.50" stroke="#000" stroke-width="0.85" stroke-linecap="round"/>
<text x="293.20" y="50.60" font-size="6.60" text-anchor="middle" font-weight="normal">O</text>
<line x1="290.30" y1="50.20" x2="284.00" y2="53.60" stroke="#000" stroke-width="0.85" stroke-linecap="round"/>
<line x1="284.00" y1="53.60" x2="279.60" y2="55.80" stroke="#000" stroke-width="0.85" stroke-linecap="round"/>
<text x="276.30" y="59.90" font-size="6.60" text-anchor="middle" font-weight="normal">O</text>
<line x1="277.60" y1="60.80" x2="278.50" y2="67.40" stroke="#000" stroke-width="0.85" stroke-linecap="round"/>
<line x1="278.50" y1="67.40" x2="276.50" y2="75.30" stroke="#000" stroke-width="0.85" stroke-linecap="round"/>
<polygon points="283.60,53.80 284.40,53.40 282.90,62.30 281.00,62.30" fill="#000"/>
<line x1="281.90" y1="62.30" x2="284.90" y2="71.90" stroke="#000" stroke-width="1.90" stroke-linecap="round"/>
<polygon points="276.50,75.00 285.30,71.00 285.90,72.90 276.60,75.60" fill="#000"/>
<line x1="282.60" y1="63.20" x2="287.60" y2="65.60" stroke="#000" stroke-width="0.85" stroke-linecap="round"/>
<text x="292.80" y="69.50" font-size="6.60" text-anchor="middle" font-weight="normal">OH</text>
<line x1="285.20" y1="72.40" x2="288.70" y2="74.90" stroke="#000" stroke-width="0.85" stroke-linecap="round"/>
<text x="293.40" y="79.60" font-size="6.60" text-anchor="middle" font-weight="normal">NH</text>
<line x1="290.60" y1="81.20" x2="290.60" y2="86.70" stroke="#000" stroke-width="0.85" stroke-linecap="round"/>
<line x1="276.50" y1="75.50" x2="267.20" y2="78.20" stroke="#000" stroke-width="0.85" stroke-linecap="round"/>
<line x1="276.50" y1="75.50" x2="276.50" y2="82.00" stroke="#000" stroke-width="0.85" stroke-linecap="round"/>
<text x="278.60" y="87.80" font-size="6.60" text-anchor="middle" font-weight="normal">OH</text>
<text x="259.90" y="75.00" font-size="9.50" text-anchor="middle" font-weight="bold">1f</text>
<line x1="318.7" y1="45.4" x2="411" y2="45.4" stroke="#808080" stroke-width="1.1"/>
<polygon points="409.20,43.20 419.50,45.60 409.20,48.50 411.20,45.60" fill="#000"/>
<text x="363.70" y="42.60" font-size="9.90" text-anchor="middle" font-weight="normal">GenB4</text>
<text x="366.10" y="54.70" font-size="8.40" text-anchor="middle" font-weight="normal">0.5 mM PLP, KPi pH 8,</text>
<text x="365.8" y="63.5" font-size="8.4" text-anchor="middle">30 <tspan font-size="6.0" dy="-3.3">o</tspan><tspan dy="3.3" dx="0.6">C, 2 - 24 hrs</tspan></text>
<g transform="translate(179,6)">
<line x1="242.10" y1="15.60" x2="250.60" y2="17.70" stroke="#000" stroke-width="0.85" stroke-linecap="round"/>
<line x1="245.40" y1="19.20" x2="250.80" y2="18.90" stroke="#000" stroke-width="0.70" stroke-linecap="round"/>
<line x1="250.60" y1="17.70" x2="257.50" y2="16.60" stroke="#000" stroke-width="0.85" stroke-linecap="round"/>
<line x1="242.10" y1="15.60" x2="246.00" y2="24.00" stroke="#000" stroke-width="0.85" stroke-linecap="round"/>
<line x1="246.00" y1="24.00" x2="255.80" y2="21.70" stroke="#000" stroke-width="1.90" stroke-linecap="round"/>
<line x1="255.80" y1="21.70" x2="264.90" y2="23.60" stroke="#000" stroke-width="1.90" stroke-linecap="round"/>
<line x1="262.50" y1="18.60" x2="264.90" y2="23.60" stroke="#000" stroke-width="0.85" stroke-linecap="round"/>
<line x1="255.80" y1="22.50" x2="255.70" y2="27.20" stroke="#000" stroke-width="0.85" stroke-linecap="round"/>
<line x1="265.30" y1="24.00" x2="265.30" y2="32.60" stroke="#000" stroke-width="0.85" stroke-linecap="round"/>
<text x="260.10" y="18.40" font-size="6.60" text-anchor="middle" font-weight="normal">O</text>
<text x="245.20" y="33.10" font-size="6.60">H<tspan font-size="4.8" dy="1.5">2</tspan><tspan dy="-1.5">N</tspan></text>
<line x1="250.60" y1="17.70" x2="246.60" y2="9.40" stroke="#000" stroke-width="0.85" stroke-linecap="round"/>
<line x1="246.60" y1="9.40" x2="253.60" y2="5.00" stroke="#000" stroke-width="0.85" stroke-linecap="round"/>
<line x1="249.40" y1="9.80" x2="255.00" y2="6.80" stroke="#000" stroke-width="0.85" stroke-linecap="round"/>
<text x="258.00" y="6.10" font-size="6.60" text-anchor="middle" font-weight="normal">O</text>
<text x="265.30" y="39.00" font-size="6.60" text-anchor="middle" font-weight="normal">O</text>
<line x1="268.60" y1="35.60" x2="275.00" y2="34.40" stroke="#000" stroke-width="0.85" stroke-linecap="round"/>
<line x1="275.00" y1="34.40" x2="283.20" y2="36.10" stroke="#000" stroke-width="0.85" stroke-linecap="round"/>
<line x1="283.20" y1="36.10" x2="292.10" y2="34.20" stroke="#000" stroke-width="0.85" stroke-linecap="round"/>
<line x1="292.10" y1="34.20" x2="296.30" y2="41.60" stroke="#000" stroke-width="0.85" stroke-linecap="round"/>
<line x1="296.30" y1="41.60" x2="289.40" y2="39.80" stroke="#000" stroke-width="1.90" stroke-linecap="round"/>
<line x1="289.40" y1="39.80" x2="277.90" y2="41.90" stroke="#000" stroke-width="1.90" stroke-linecap="round"/>
<polygon points="274.60,34.40 275.40,34.40 279.00,41.90 277.00,42.70" fill="#000"/>
<line x1="282.90" y1="35.80" x2="281.80" y2="32.40" stroke="#000" stroke-width="0.85" stroke-linecap="round"/>
<text x="268.60" y="30.60" font-size="6.60">H<tspan font-size="4.8" dy="1.5">2</tspan><tspan dy="-1.5">N</tspan></text>
<line x1="273.00" y1="41.90" x2="277.90" y2="41.90" stroke="#000" stroke-width="0.85" stroke-linecap="round"/>
<text x="267.30" y="44.30" font-size="6.60" text-anchor="middle" font-weight="normal">HO</text>
<line x1="296.30" y1="41.60" x2="302.40" y2="41.10" stroke="#000" stroke-width="0.85" stroke-linecap="round"/>
<text x="304.50" y="42.50" font-size="6.10">NH<tspan font-size="4.8" dy="1.5">2</tspan></text>
<line x1="289.60" y1="40.20" x2="290.60" y2="45.50" stroke="#000" stroke-width="0.85" stroke-linecap="round"/>
<text x="293.20" y="50.60" font-size="6.60" text-anchor="middle" font-weight="normal">O</text>
<line x1="290.30" y1="50.20" x2="284.00" y2="53.60" stroke="#000" stroke-width="0.85" stroke-linecap="round"/>
<line x1="284.00" y1="53.60" x2="279.60" y2="55.80" stroke="#000" stroke-width="0.85" stroke-linecap="round"/>
<text x="276.30" y="59.90" font-size="6.60" text-anchor="middle" font-weight="normal">O</text>
<line x1="277.60" y1="60.80" x2="278.50" y2="67.40" stroke="#000" stroke-width="0.85" stroke-linecap="round"/>
<line x1="278.50" y1="67.40" x2="276.50" y2="75.30" stroke="#000" stroke-width="0.85" stroke-linecap="round"/>
<polygon points="283.60,53.80 284.40,53.40 282.90,62.30 281.00,62.30" fill="#000"/>
<line x1="281.90" y1="62.30" x2="284.90" y2="71.90" stroke="#000" stroke-width="1.90" stroke-linecap="round"/>
<polygon points="276.50,75.00 285.30,71.00 285.90,72.90 276.60,75.60" fill="#000"/>
<line x1="282.60" y1="63.20" x2="287.60" y2="65.60" stroke="#000" stroke-width="0.85" stroke-linecap="round"/>
<text x="292.80" y="69.50" font-size="6.60" text-anchor="middle" font-weight="normal">OH</text>
<line x1="285.20" y1="72.40" x2="288.70" y2="74.90" stroke="#000" stroke-width="0.85" stroke-linecap="round"/>
<text x="293.40" y="79.60" font-size="6.60" text-anchor="middle" font-weight="normal">NH</text>
<line x1="290.60" y1="81.20" x2="290.60" y2="86.70" stroke="#000" stroke-width="0.85" stroke-linecap="round"/>
<line x1="276.50" y1="75.50" x2="267.20" y2="78.20" stroke="#000" stroke-width="0.85" stroke-linecap="round"/>
<line x1="276.50" y1="75.50" x2="276.50" y2="82.00" stroke="#000" stroke-width="0.85" stroke-linecap="round"/>
<text x="278.60" y="87.80" font-size="6.60" text-anchor="middle" font-weight="normal">OH</text>
</g>
<text x="441.10" y="75.80" font-size="9.50" text-anchor="middle" font-weight="bold">2e</text>
<line x1="504.20" y1="45.10" x2="509.90" y2="45.10" stroke="#000" stroke-width="0.85" stroke-linecap="round"/>
<line x1="507.05" y1="42.30" x2="507.05" y2="47.90" stroke="#000" stroke-width="0.85" stroke-linecap="round"/>
<text x="519.1" y="48.6" font-size="10">NH<tspan font-size="7.2" dy="2.3">3</tspan></text>
</g>
</svg>
</body></html>
